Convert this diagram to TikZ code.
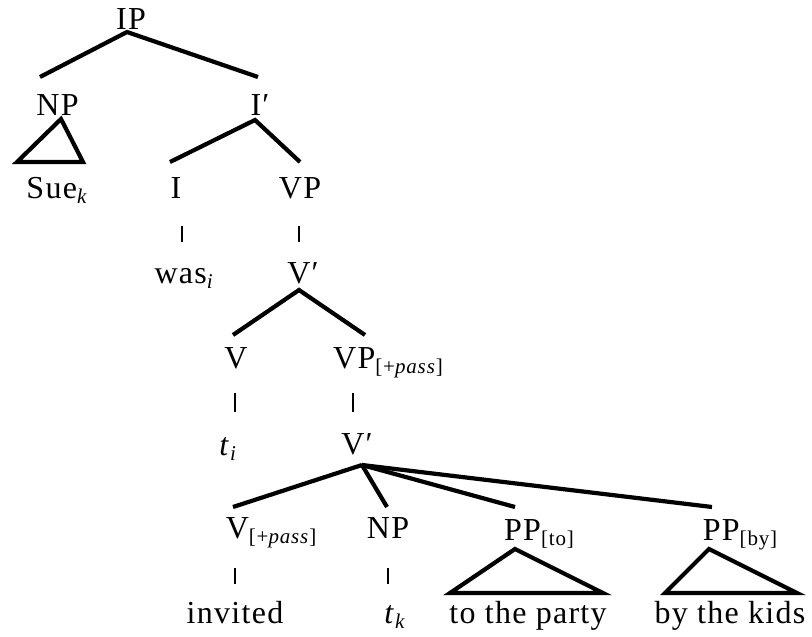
\documentclass[tikz,border=0pt]{standalone}
\usepackage{fontspec}
\setmainfont{Liberation Serif}[LetterSpace=4]
\newcommand\sbx[1]{\raisebox{-5pt}{\fontsize{21}{21}\selectfont #1}}
\tikzset{
  lbl/.style={anchor=base, inner sep=0pt, font=\fontsize{32}{38}\selectfont},
  br/.style={line width=4.2pt},
  unibar/.style={line width=2.4pt},
  tri/.style={line width=4.2pt, line join=miter}
}
\begin{document}
\begin{tikzpicture}[x=1pt,y=-1pt]
\useasboundingbox (0,0) rectangle (812,637);
% labels
\node[lbl] (IP) at (131,30) {IP};
\node[lbl] (NP1) at (57.5,115) {NP};
\node[lbl] (Ibar) at (260,115) {I′};
\node[lbl] (Sue) at (57,198) {Sue\sbx{\textit{k}}};
\node[lbl] (I) at (176,198) {I};
\node[lbl] (VP1) at (300,198) {VP};
\node[lbl] (was) at (184,283) {was\sbx{\textit{i}}};
\node[lbl] (Vbar1) at (303,283) {V′};
\node[lbl] (V1) at (236,368) {V};
\node[lbl] (VPp) at (388,368) {VP\sbx{[+\textit{pass}]}};
\node[lbl] (ti) at (228,455) {\textit{t}\sbx{\textit{i}}};
\node[lbl] (Vbar2) at (357,454) {V′};
\node[lbl] (Vp) at (271,538) {V\sbx{[+\textit{pass}]}};
\node[lbl] (NP2) at (388,538) {NP};
\node[lbl] (PPto) at (539,540) {PP\sbx{[to]}};
\node[lbl] (PPby) at (740,540) {PP\sbx{[by]}};
\node[lbl] (inv) at (235,623) {invited};
\node[lbl] (tk) at (395,623) {\textit{t}\sbx{\textit{k}}};
\node[lbl] (party) at (528,623) {to the party};
\node[lbl] (kids) at (730,623) {by the kids};
% connector end points
\coordinate (IPb) at (127,32);
\coordinate (NP1t) at (40,77);
\coordinate (Ibart) at (258,77);
\coordinate (Ibarb) at (255,120);
\coordinate (It) at (170,162);
\coordinate (VP1t) at (300,162);
\coordinate (VP1b) at (299,226);
\coordinate (Vbar1t) at (299,242);
\coordinate (Ib) at (182,226);
\coordinate (wast) at (182,242);
\coordinate (Vbar1b) at (299,290);
\coordinate (V1t) at (233,335);
\coordinate (VPpt) at (365,335);
\coordinate (V1b) at (235,393);
\coordinate (tit) at (235,412);
\coordinate (VPpb) at (353,393);
\coordinate (Vbar2t) at (353,412);
\coordinate (Vbar2b) at (362,465);
\coordinate (Vpt) at (233,507);
\coordinate (NP2t) at (387,507);
\coordinate (PPtot) at (515,507);
\coordinate (PPbyt) at (712,507);
\coordinate (Vpb) at (235,568);
\coordinate (invt) at (235,584);
\coordinate (NP2b) at (388,568);
\coordinate (tkt) at (388,584);
\coordinate (NP1b) at (61,119);
\coordinate (SueL) at (17,162);
\coordinate (SueR) at (83,162);
\coordinate (PPtob) at (515,549);
\coordinate (partyL) at (450,593);
\coordinate (partyR) at (603,593);
\coordinate (PPbyb) at (709,549);
\coordinate (kidsL) at (665,593);
\coordinate (kidsR) at (797,593);
% branches
\draw[br] (NP1t) -- (IPb) -- (Ibart);
\draw[br] (It) -- (Ibarb) -- (VP1t);
\draw[br] (V1t) -- (Vbar1b) -- (VPpt);
\draw[br] (Vbar2b) -- (Vpt);
\draw[br] (Vbar2b) -- (NP2t);
\draw[br] (Vbar2b) -- (PPtot);
\draw[br] (Vbar2b) -- (PPbyt);
% unary bars
\draw[unibar] (Ib) -- (wast);
\draw[unibar] (VP1b) -- (Vbar1t);
\draw[unibar] (V1b) -- (tit);
\draw[unibar] (VPpb) -- (Vbar2t);
\draw[unibar] (Vpb) -- (invt);
\draw[unibar] (NP2b) -- (tkt);
% triangles
\draw[tri] (NP1b) -- (SueL) -- (SueR) -- cycle;
\draw[tri] (PPtob) -- (partyL) -- (partyR) -- cycle;
\draw[tri] (PPbyb) -- (kidsL) -- (kidsR) -- cycle;
\end{tikzpicture}
\end{document}
